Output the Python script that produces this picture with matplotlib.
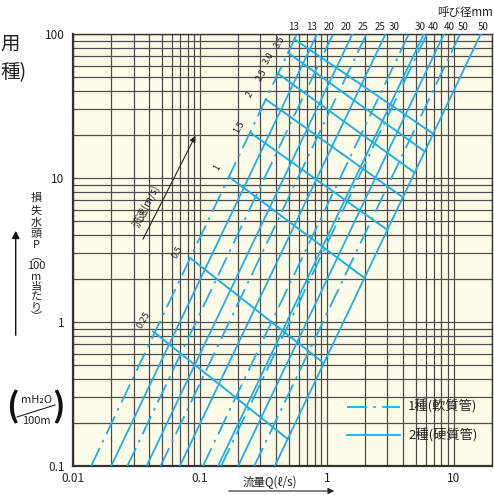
import matplotlib
matplotlib.use("Agg")
import matplotlib.pyplot as plt
from matplotlib.ticker import NullFormatter, FixedLocator, LogLocator

plt.rcParams['font.family'] = ['Noto Sans CJK JP', 'DejaVu Sans']

# ==== data ====
# nominal sizes; 1種 = soft pipe (dash-dot), 2種 = hard pipe (solid)
sizes = [13, 20, 25, 30, 40, 50]
soft_q_low = [0.0139, 0.0268, 0.0490, 0.1057, 0.147, 0.268]   # Q at P=0.1
soft_q_high = [0.581, 1.12, 2.05, 4.42, 6.14, 11.2]            # Q at P=100
hard_q_low = [0.0200, 0.0380, 0.0695, 0.139, 0.200, 0.389]
hard_q_high = [0.837, 1.59, 2.90, 5.81, 8.37, 16.3]
p_range = [0.1, 100]

# velocity lines (m/s): from 13mm 1種 pipe to 50mm 2種 pipe
velocities = ['0.25', '0.5', '1', '1.5', '2', '2.5', '3.0', '3.5']
vel_q_start = [0.0427, 0.083, 0.169, 0.248, 0.330, 0.413, 0.495, 0.555]
vel_p_start = [0.86, 2.8, 10.2, 20.7, 35.2, 53, 74, 92]
vel_q_end = [0.491, 0.94, 1.98, 2.95, 3.92, 4.91, 5.89, 6.87]
vel_p_end = [0.154, 0.52, 2.02, 4.4, 7.4, 10.9, 15.3, 20.3]

top_labels = ['13', '13', '20', '20', '25', '25', '30', '30', '40', '40', '50', '50']
x_ticks = [0.01, 0.1, 1, 10]
x_ticklabels = ['0.01', '0.1', '1', '10']
y_ticks = [0.1, 1, 10, 100]
y_ticklabels = ['0.1', '1', '10', '100']

# ==== layout (pixels) ====
W, H = 494, 495
BG = '#fefbe8'
BLUE = '#1eb0e6'
GRID = '#4d4d4d'
DASHDOT = (11, 3.5, 1.5, 3.5)
TOP_LABEL_X = [294, 312, 329, 346, 363, 380, 394, 420, 433, 449, 463, 483]
VEL_LABEL_XY = [(144, 320), (178, 252), (217, 168), (239, 127), (250, 95),
                (262, 75), (269, 58), (280, 42)]


def fx(px):
    return px / W


def fy(py):
    return 1 - py / H


fig = plt.figure(figsize=(W / 100, H / 100), dpi=100)
ax = fig.add_axes([fx(73), fy(466), (492 - 73) / W, (466 - 34) / H])
ax.set_facecolor(BG)
ax.set_xscale('log')
ax.set_yscale('log')
ax.set_xlim(0.01, 20)
ax.set_ylim(0.1, 100)

ax.xaxis.set_minor_locator(LogLocator(base=10, subs=range(2, 10)))
ax.yaxis.set_minor_locator(LogLocator(base=10, subs=range(2, 10)))
ax.xaxis.set_major_locator(FixedLocator(x_ticks))
ax.yaxis.set_major_locator(FixedLocator(y_ticks))
ax.set_xticklabels(x_ticklabels)
ax.set_yticklabels(y_ticklabels)
ax.xaxis.set_minor_formatter(NullFormatter())
ax.yaxis.set_minor_formatter(NullFormatter())
ax.tick_params(which='both', length=0, labelsize=8.5, colors='#222')
ax.tick_params(axis='x', pad=4)
ax.tick_params(axis='y', pad=6)
ax.grid(True, which='both', color=GRID, lw=0.9)
ax.set_axisbelow(True)
for side, sp in ax.spines.items():
    sp.set_color('#333')
    sp.set_linewidth(1.6 if side in ('left', 'bottom') else 1.0)

# pipe lines
for i in range(len(sizes)):
    ax.plot([soft_q_low[i], soft_q_high[i]], p_range, color=BLUE, lw=1.3,
            dashes=DASHDOT, zorder=3)
    ax.plot([hard_q_low[i], hard_q_high[i]], p_range, color=BLUE, lw=1.3, zorder=3)

# velocity lines
for i in range(len(velocities)):
    ax.plot([vel_q_start[i], vel_q_end[i]], [vel_p_start[i], vel_p_end[i]],
            color=BLUE, lw=1.4, zorder=3)
    x, y = VEL_LABEL_XY[i]
    fig.text(fx(x), fy(y), velocities[i], rotation=60, fontsize=6.5,
             ha='center', va='center', color='#222')

# legend drawn inside the plot
fig.add_artist(plt.Line2D([fx(347), fx(400)], [fy(406.5), fy(406.5)], color=BLUE,
                          lw=1.3, dashes=DASHDOT))
fig.add_artist(plt.Line2D([fx(347), fx(400)], [fy(435), fy(435)], color=BLUE, lw=1.3))
fig.text(fx(408), fy(406.5), '1種(軟質管)', fontsize=9.5, va='center', color='#222')
fig.text(fx(408), fy(435), '2種(硬質管)', fontsize=9.5, va='center', color='#222')

# pipe size labels
for lab, x in zip(top_labels, TOP_LABEL_X):
    fig.text(fx(x), fy(27), lab, fontsize=7, ha='center', va='center', color='#222')
fig.text(fx(493), fy(12), '呼び径mm', fontsize=8.3, ha='right', va='center', color='#222')

# velocity arrow
fig.add_artist(matplotlib.patches.FancyArrowPatch(
    (fx(141.7), fy(241.7)), (fx(196.7), fy(133.3)), transform=fig.transFigure,
    arrowstyle='-|>', mutation_scale=9, lw=0.8, color='#222'))
fig.text(fx(146), fy(206), '流速(m/s)', rotation=63, fontsize=7.5,
         ha='center', va='center', color='#222')

# y label, stacked characters
ylab = [('損', 198), ('失', 211), ('水', 223), ('頭', 234), ('P', 245),
        ('︵', 256), ('100', 266), ('m', 277), ('当', 287), ('た', 297),
        ('り', 307), ('︶', 316)]
for ch, y in ylab:
    fig.text(fx(36), fy(y), ch, fontsize=8, ha='center', va='center', color='#222')
fig.add_artist(matplotlib.patches.FancyArrowPatch(
    (fx(15.7), fy(338)), (fx(15.7), fy(228)), transform=fig.transFigure,
    arrowstyle='-|>', mutation_scale=11, lw=1.0, color='#111'))

# unit fraction
fig.text(fx(12), fy(407), '(', fontsize=24, fontweight='bold', ha='center',
         va='center', color='#111')
fig.text(fx(59), fy(407), ')', fontsize=24, fontweight='bold', ha='center',
         va='center', color='#111')
fig.text(fx(36), fy(400), 'mH₂O', fontsize=8, ha='center', va='center', color='#222')
fig.text(fx(36), fy(421), '100m', fontsize=8, ha='center', va='center', color='#222')
fig.add_artist(plt.Line2D([fx(17), fx(55)], [fy(417), fy(405)], color='#222', lw=0.8))

# x label and arrow
fig.text(fx(270), fy(482), '流量Q(ℓ/s)', fontsize=8.3, ha='center', va='center', color='#222')
fig.add_artist(matplotlib.patches.FancyArrowPatch(
    (fx(226), fy(491)), (fx(337), fy(491)), transform=fig.transFigure,
    arrowstyle='-|>', mutation_scale=9, lw=0.8, color='#222'))

# title fragments at the left edge
fig.text(fx(0), fy(44), '用', fontsize=14, ha='left', va='center', color='#222')
fig.text(fx(0), fy(73), '種)', fontsize=14, ha='left', va='center', color='#222')

fig.savefig('out.png', dpi=100, facecolor='white')
